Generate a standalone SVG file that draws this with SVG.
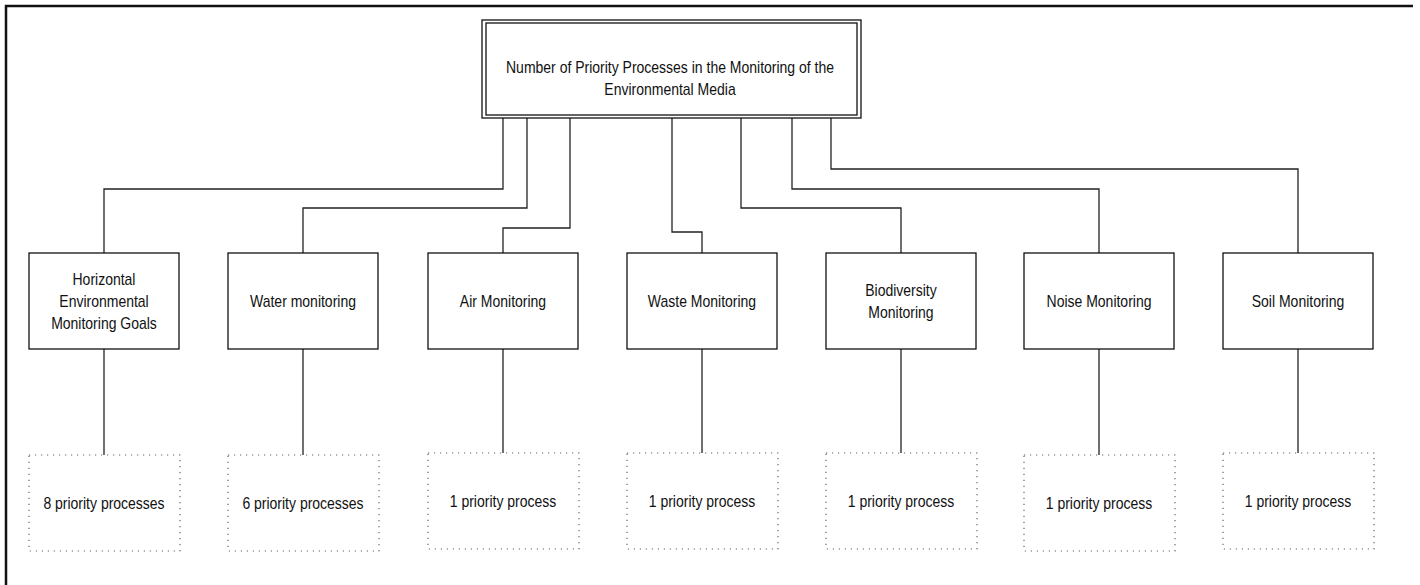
<svg xmlns="http://www.w3.org/2000/svg" width="1420" height="585" viewBox="0 0 1420 585">
  <style>
    .frame { fill: none; stroke: #111; stroke-width: 2.5; }
    .box { fill: #fff; stroke: #111; stroke-width: 1.3; }
    .dot { fill: none; stroke: #666; stroke-width: 1.2; stroke-dasharray: 1.2 4.8; }
    .wire { fill: none; stroke: #222; stroke-width: 1.3; }
    .lbl { font-family: "Liberation Sans", Arial, sans-serif; font-size: 16px; fill: #111; text-anchor: middle; }
  </style>

  <!-- page frame: top and left edges -->
  <path class="frame" d="M6,585 V6 H1413"/>

  <!-- connectors -->
  <g id="connectors">
    <path class="wire" d="M503,118 V189 H104 V253"/>
    <path class="wire" d="M527,118 V208 H303 V253"/>
    <path class="wire" d="M570,118 V228 H503 V253"/>
    <path class="wire" d="M672,118 V232 H702 V253"/>
    <path class="wire" d="M741,118 V208 H901 V253"/>
    <path class="wire" d="M792,118 V189 H1099 V253"/>
    <path class="wire" d="M831,118 V169 H1298 V253"/>
    <path class="wire" d="M104,349 V455"/>
    <path class="wire" d="M303,349 V455"/>
    <path class="wire" d="M503,349 V453"/>
    <path class="wire" d="M702,349 V453"/>
    <path class="wire" d="M901,349 V453"/>
    <path class="wire" d="M1099,349 V455"/>
    <path class="wire" d="M1298,349 V453"/>
  </g>

  <!-- root -->
  <g id="root">
    <rect class="box" x="482" y="20" width="379" height="98" stroke-width="1.6"/>
    <rect class="box" x="486" y="23" width="371" height="92" stroke-width="1"/>
    <text class="lbl" transform="translate(670,72.5) scale(0.875,1)">Number of Priority Processes in the Monitoring of the</text>
    <text class="lbl" transform="translate(670,94.5) scale(0.875,1)">Environmental Media</text>
  </g>

  <!-- media -->
  <g id="horizontal">
    <rect class="box" x="29" y="253" width="150" height="96"/>
    <text class="lbl" transform="translate(104,284.5) scale(0.875,1)">Horizontal</text>
    <text class="lbl" transform="translate(104,306.5) scale(0.875,1)">Environmental</text>
    <text class="lbl" transform="translate(104,328.5) scale(0.875,1)">Monitoring Goals</text>
  </g>
  <g id="water">
    <rect class="box" x="228" y="253" width="150" height="96"/>
    <text class="lbl" transform="translate(303,306.5) scale(0.875,1)">Water monitoring</text>
  </g>
  <g id="air">
    <rect class="box" x="428" y="253" width="150" height="96"/>
    <text class="lbl" transform="translate(503,306.5) scale(0.875,1)">Air Monitoring</text>
  </g>
  <g id="waste">
    <rect class="box" x="627" y="253" width="150" height="96"/>
    <text class="lbl" transform="translate(702,306.5) scale(0.875,1)">Waste Monitoring</text>
  </g>
  <g id="biodiversity">
    <rect class="box" x="826" y="253" width="150" height="96"/>
    <text class="lbl" transform="translate(901,296) scale(0.875,1)">Biodiversity</text>
    <text class="lbl" transform="translate(901,318) scale(0.875,1)">Monitoring</text>
  </g>
  <g id="noise">
    <rect class="box" x="1024" y="253" width="150" height="96"/>
    <text class="lbl" transform="translate(1099,306.5) scale(0.875,1)">Noise Monitoring</text>
  </g>
  <g id="soil">
    <rect class="box" x="1223" y="253" width="150" height="96"/>
    <text class="lbl" transform="translate(1298,306.5) scale(0.875,1)">Soil Monitoring</text>
  </g>

  <!-- counts -->
  <g id="count-horizontal">
    <rect class="dot" x="29" y="455" width="151" height="96"/>
    <text class="lbl" transform="translate(104,509) scale(0.875,1)">8 priority processes</text>
  </g>
  <g id="count-water">
    <rect class="dot" x="228" y="455" width="151" height="96"/>
    <text class="lbl" transform="translate(303,509) scale(0.875,1)">6 priority processes</text>
  </g>
  <g id="count-air">
    <rect class="dot" x="428" y="453" width="151" height="96"/>
    <text class="lbl" transform="translate(503,507) scale(0.875,1)">1 priority process</text>
  </g>
  <g id="count-waste">
    <rect class="dot" x="627" y="453" width="151" height="96"/>
    <text class="lbl" transform="translate(702,507) scale(0.875,1)">1 priority process</text>
  </g>
  <g id="count-biodiversity">
    <rect class="dot" x="826" y="453" width="151" height="96"/>
    <text class="lbl" transform="translate(901,507) scale(0.875,1)">1 priority process</text>
  </g>
  <g id="count-noise">
    <rect class="dot" x="1024" y="455" width="151" height="96"/>
    <text class="lbl" transform="translate(1099,509) scale(0.875,1)">1 priority process</text>
  </g>
  <g id="count-soil">
    <rect class="dot" x="1223" y="453" width="151" height="96"/>
    <text class="lbl" transform="translate(1298,507) scale(0.875,1)">1 priority process</text>
  </g>
</svg>
